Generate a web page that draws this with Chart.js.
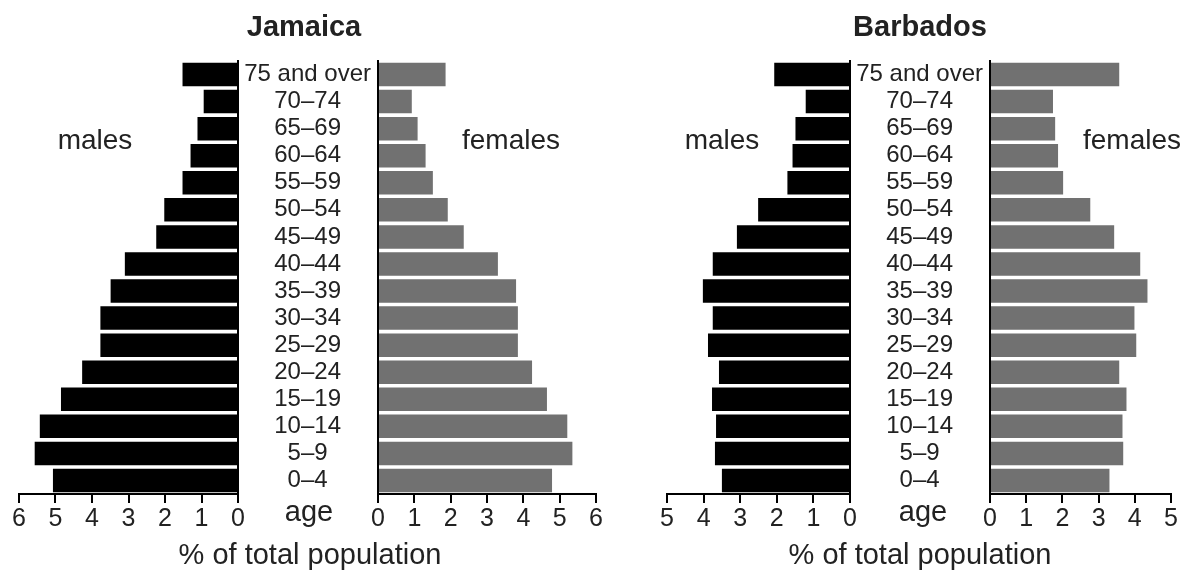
<!DOCTYPE html>
<html>
<head>
<meta charset="utf-8">
<script src="https://cdn.jsdelivr.net/npm/chart.js@4.4.1/dist/chart.umd.min.js"></script>
<style>
  html, body { margin: 0; padding: 0; background: #fff; }
  #wrap { position: relative; width: 1190px; height: 574px; overflow: hidden;
          font-family: "Liberation Sans", Arial, sans-serif; color: #222; }
  canvas { position: absolute; top: 0; }
  .lbl { position: absolute; white-space: nowrap; transform: translateX(-50%); line-height: 1; }
  .ttl { font-weight: bold; font-size: 29px; top: 12px; }
  .side { font-size: 28px; top: 126px; }
  .age { font-size: 29px; top: 497px; }
  .pct { font-size: 29px; top: 540px; }
</style>
</head>
<body>
<div id="wrap">
  <canvas id="jmM" width="250" height="574" style="left:0px"></canvas>
  <canvas id="jmF" width="371" height="574" style="left:237px"></canvas>
  <canvas id="bbM" width="250" height="574" style="left:612px"></canvas>
  <canvas id="bbF" width="334" height="574" style="left:849px"></canvas>

  <div class="lbl ttl" style="left:304px">Jamaica</div>
  <div class="lbl ttl" style="left:920px">Barbados</div>
  <div class="lbl side" style="left:95px">males</div>
  <div class="lbl side" style="left:511px">females</div>
  <div class="lbl side" style="left:722px">males</div>
  <div class="lbl side" style="left:1132px">females</div>
  <div class="lbl age" style="left:309px">age</div>
  <div class="lbl age" style="left:923px">age</div>
  <div class="lbl pct" style="left:310px">% of total population</div>
  <div class="lbl pct" style="left:920px">% of total population</div>
</div>
<script>
// age groups, oldest at the top
const ageGroups = ["75 and over", "70–74", "65–69", "60–64", "55–59", "50–54", "45–49",
  "40–44", "35–39", "30–34", "25–29", "20–24", "15–19", "10–14", "5–9", "0–4"];

// % of total population, same order as ageGroups
const jamaicaMales   = [1.52, 0.94, 1.11, 1.30, 1.52, 2.02, 2.24, 3.10, 3.49, 3.77, 3.77, 4.27, 4.85, 5.43, 5.57, 5.07];
const jamaicaFemales = [1.86, 0.93, 1.09, 1.31, 1.51, 1.92, 2.36, 3.30, 3.80, 3.85, 3.85, 4.24, 4.65, 5.21, 5.35, 4.79];
const barbadosMales   = [2.07, 1.21, 1.49, 1.57, 1.71, 2.51, 3.09, 3.75, 4.02, 3.75, 3.88, 3.58, 3.77, 3.66, 3.69, 3.50];
const barbadosFemales = [3.57, 1.74, 1.80, 1.88, 2.02, 2.77, 3.43, 4.15, 4.35, 3.99, 4.04, 3.57, 3.77, 3.66, 3.68, 3.30];

const jamaicaMax = 6;
const barbadosMax = 5;

const FONT = "'Liberation Sans', Arial, sans-serif";
const MALE_COL = "#000";
const FEMALE_COL = "#717171";
const AGE_W = 141;   // gap between the two halves, holds the age labels

// one half of a pyramid
function half(id, values, maxVal, male, padLeft) {
  return new Chart(document.getElementById(id), {
    type: "bar",
    data: {
      labels: ageGroups,
      datasets: [{
        data: values,
        backgroundColor: male ? MALE_COL : FEMALE_COL,
        barPercentage: 0.87,
        categoryPercentage: 1
      }]
    },
    options: {
      indexAxis: "y",
      responsive: false,
      animation: false,
      layout: { padding: { top: 61, bottom: 0, left: padLeft, right: 12 } },
      plugins: { legend: { display: false }, tooltip: { enabled: false } },
      scales: {
        x: {
          min: 0, max: maxVal, reverse: male,
          ticks: { stepSize: 1, color: "#222", font: { size: 25, family: FONT }, padding: 1, maxRotation: 0 },
          grid: { drawOnChartArea: false, drawTicks: true, tickLength: 9, color: "#000", lineWidth: 2 },
          border: { display: true, color: "#000", width: 2 },
          afterFit: s => { s.height = 80; }
        },
        y: {
          position: male ? "right" : "left",
          ticks: { display: !male, autoSkip: false, crossAlign: "center", padding: 7, color: "#222",
                   font: { size: 24, family: FONT } },
          grid: { drawOnChartArea: false, drawTicks: false },
          border: { display: true, color: "#000", width: 2 },
          afterFit: s => { s.width = male ? 0 : AGE_W; }
        }
      }
    }
  });
}

half("jmM", jamaicaMales, jamaicaMax, true, 19);
half("jmF", jamaicaFemales, jamaicaMax, false, 0);
half("bbM", barbadosMales, barbadosMax, true, 55);
half("bbF", barbadosFemales, barbadosMax, false, 0);
</script>
</body>
</html>
